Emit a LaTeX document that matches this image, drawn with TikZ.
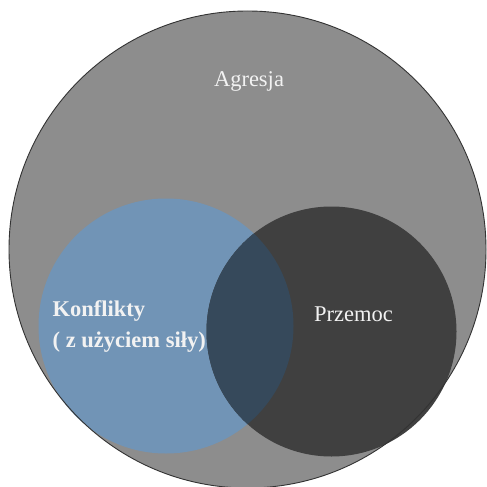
\documentclass[tikz,border=0pt]{standalone}
\usepackage{fontspec}
\setmainfont{Liberation Serif}
\definecolor{aggray}{HTML}{8D8D8D}
\definecolor{konfblue}{HTML}{7194B6}
\definecolor{przdark}{HTML}{404040}
\definecolor{overlap}{HTML}{36495B}
\definecolor{txtwhite}{HTML}{F2F2F2}
\tikzset{
  lbl/.style={text=txtwhite, inner sep=0pt, font=\fontsize{22.5}{27}\selectfont},
  lblb/.style={lbl, font=\fontsize{22.5}{27}\selectfont\bfseries}
}
\begin{document}
\begin{tikzpicture}[x=1pt,y=-1pt]
\useasboundingbox (0,0) rectangle (487,487);
\fill[white] (0,0) rectangle (487,487);
\coordinate (cA) at (247.5,249.5);
\coordinate (cK) at (166,326);
\coordinate (cP) at (331.5,331.5);
% big circle
\fill[aggray] (cA) circle[radius=238.5];
% blue circle
\fill[konfblue] (cK) circle[radius=127.5];
% dark circle
\fill[przdark] (cP) circle[radius=125];
% overlap
\begin{scope}
  \clip (cK) circle[radius=127.5];
  \fill[overlap] (cP) circle[radius=125];
\end{scope}
\draw[black!80, line width=0.9pt] (cA) circle[radius=238.5];
% labels
\node[lbl, anchor=base] (agresja) at (249,86.5) {Agresja};
\node[lbl, anchor=base] (przemoc) at (353.5,321.5) {Przemoc};
\node[lblb, anchor=base west] (konf1) at (52.5,316.5) {Konflikty};
\node[lblb, anchor=base west] (konf2) at (52.5,347.5) {( z użyciem siły)};
\end{tikzpicture}
\end{document}
